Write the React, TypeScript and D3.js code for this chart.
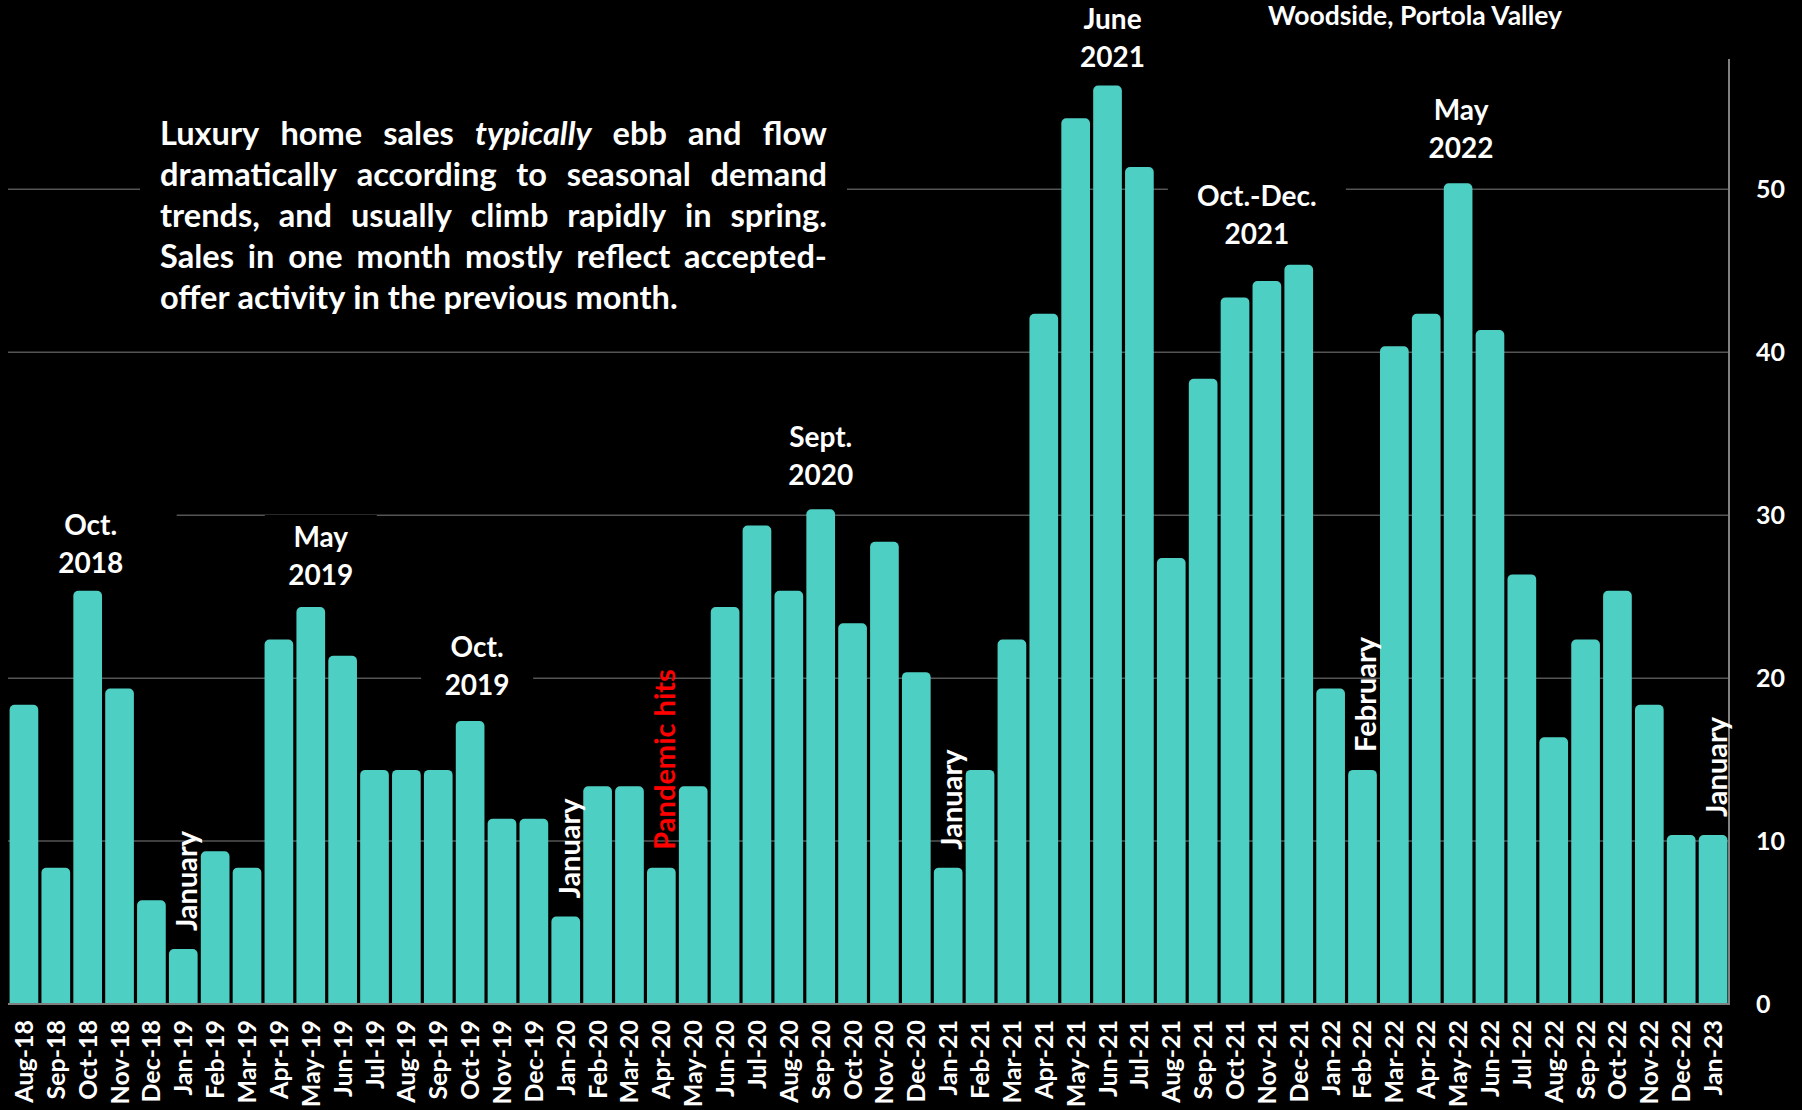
import React, { useMemo } from "react";
import * as d3 from "d3";

const months = [
  "Aug-18", "Sep-18", "Oct-18", "Nov-18", "Dec-18",
  "Jan-19", "Feb-19", "Mar-19", "Apr-19", "May-19", "Jun-19", "Jul-19", "Aug-19", "Sep-19", "Oct-19", "Nov-19", "Dec-19",
  "Jan-20", "Feb-20", "Mar-20", "Apr-20", "May-20", "Jun-20", "Jul-20", "Aug-20", "Sep-20", "Oct-20", "Nov-20", "Dec-20",
  "Jan-21", "Feb-21", "Mar-21", "Apr-21", "May-21", "Jun-21", "Jul-21", "Aug-21", "Sep-21", "Oct-21", "Nov-21", "Dec-21",
  "Jan-22", "Feb-22", "Mar-22", "Apr-22", "May-22", "Jun-22", "Jul-22", "Aug-22", "Sep-22", "Oct-22", "Nov-22", "Dec-22",
  "Jan-23",
];

const sales = [
  18, 8, 25, 19, 6,
  3, 9, 8, 22, 24, 21, 14, 14, 14, 17, 11, 11,
  5, 13, 13, 8, 13, 24, 29, 25, 30, 23, 28, 20,
  8, 14, 22, 42, 54, 56, 51, 27, 38, 43, 44, 45,
  19, 14, 40, 42, 50, 41, 26, 16, 22, 25, 18, 10,
  10,
];

const yTicks = [0, 10, 20, 30, 40, 50];

const chartTitle = "Woodside, Portola Valley";

// Text blocks above peaks: month anchor, lines
const peakNotes = [
  { month: "Oct-18", lines: ["Oct.", "2018"], dx: 3, gap: 24, half: 86 },
  { month: "May-19", lines: ["May", "2019"], dx: 10, gap: 28, half: 56 },
  { month: "Oct-19", lines: ["Oct.", "2019"], dx: 7, gap: 32, half: 56 },
  { month: "Sep-20", lines: ["Sept.", "2020"], dx: 0, gap: 30, half: 58 },
  { month: "Jun-21", lines: ["June", "2021"], dx: 5, gap: 25, half: 50 },
  { month: "Nov-21", lines: ["Oct.-Dec.", "2021"], dx: -10, gap: 43, half: 89 },
  { month: "May-22", lines: ["May", "2022"], dx: 3, gap: 31, half: 50 },
];

// Vertical labels just above bars
const vertNotes = [
  { month: "Jan-19", text: "January", color: "#ffffff" },
  { month: "Jan-20", text: "January", color: "#ffffff" },
  { month: "Apr-20", text: "Pandemic hits", color: "#ff0000" },
  { month: "Jan-21", text: "January", color: "#ffffff" },
  { month: "Feb-22", text: "February", color: "#ffffff" },
  { month: "Jan-23", text: "January", color: "#ffffff" },
];

type Word = { t: string; i?: boolean };
const paragraph: Word[][] = [
  [{ t: "Luxury" }, { t: "home" }, { t: "sales" }, { t: "typically", i: true }, { t: "ebb" }, { t: "and" }, { t: "flow" }],
  [{ t: "dramatically" }, { t: "according" }, { t: "to" }, { t: "seasonal" }, { t: "demand" }],
  [{ t: "trends," }, { t: "and" }, { t: "usually" }, { t: "climb" }, { t: "rapidly" }, { t: "in" }, { t: "spring." }],
  [{ t: "Sales" }, { t: "in" }, { t: "one" }, { t: "month" }, { t: "mostly" }, { t: "reflect" }, { t: "accepted-" }],
  [{ t: "offer" }, { t: "activity" }, { t: "in" }, { t: "the" }, { t: "previous" }, { t: "month." }],
];

const W = 1802;
const H = 1110;
const FONT = "Lato, 'Open Sans', sans-serif";
const BAR = "#4ecfc3";
const GRID = "#555555";
const AXIS = "#808080";

export default function App() {
  const x = d3.scaleBand<string>().domain(months).range([8, 1729]).paddingInner(0.1).paddingOuter(0.05);
  const y = d3.scaleLinear().domain([0, 58]).range([1004, 59]);
  const bw = x.bandwidth();
  const r = 5;
  const capExtra = 6; // rounded outline extends above the value

  const para = useMemo(() => {
    const ctx = document.createElement("canvas").getContext("2d")!;
    const meas = (s: string, it: boolean, size: number) => {
      ctx.font = `${it ? "italic " : ""}bold ${size}px Lato`;
      return ctx.measureText(s).width;
    };
    const last = paragraph[paragraph.length - 1];
    const lastStr = last.map((w) => w.t).join(" ");
    const size = (32 * 518) / meas(lastStr, false, 32);
    const left = 160;
    const right = 827;
    const out: { t: string; i?: boolean; x: number; line: number }[] = [];
    paragraph.forEach((line, li) => {
      const widths = line.map((w) => meas(w.t, !!w.i, size));
      const total = widths.reduce((a, b) => a + b, 0);
      const isLast = li === paragraph.length - 1;
      const gap = isLast ? meas(" ", false, size) : (right - left - total) / (line.length - 1);
      let cx = left;
      line.forEach((w, k) => {
        out.push({ t: w.t, i: w.i, x: cx, line: li });
        cx += widths[k] + gap;
      });
    });
    return { size, words: out };
  }, []);

  const barPath = (m: string, v: number) => {
    const x0 = x(m)!;
    const x1 = x0 + bw;
    const yt = y(v) - capExtra;
    const yb = y(0);
    return `M${x0},${yb}V${yt + r}A${r},${r} 0 0 1 ${x0 + r},${yt}H${x1 - r}A${r},${r} 0 0 1 ${x1},${yt + r}V${yb}Z`;
  };

  const valueOf = (m: string) => sales[months.indexOf(m)];
  const lineGap = 38;

  return (
    <div style={{ position: "fixed", left: 0, top: 0, width: W, height: H }}>
      <svg width={W} height={H} style={{ display: "block" }} fontFamily={FONT}>
        <rect x={0} y={0} width={W} height={H} fill="#000" />
        {/* gridlines */}
        {yTicks.filter((t) => t > 0).map((t) => (
          <line key={t} x1={8} x2={1729} y1={y(t)} y2={y(t)} stroke={GRID} strokeWidth={1.5} />
        ))}
        {/* text boxes (black) */}
        <rect x={140} y={100} width={707} height={232} fill="#000" />
        {peakNotes.map((n) => {
          const cx = x(n.month)! + bw / 2 + n.dx;
          const b2 = y(valueOf(n.month)) - n.gap;
          const b1 = b2 - lineGap;
          return (
            <rect key={"bx" + n.month} x={cx - n.half} y={b1 - 32} width={n.half * 2} height={b2 - b1 + 46} fill="#000" />
          );
        })}
        {/* bars */}
        {months.map((m, i) => (
          <path key={m} d={barPath(m, sales[i])} fill={BAR} />
        ))}
        {/* axes */}
        <line x1={8} x2={1729} y1={y(0)} y2={y(0)} stroke={AXIS} strokeWidth={2} />
        <line x1={1729} x2={1729} y1={y(58)} y2={y(0) + 1} stroke={AXIS} strokeWidth={2} />
        {yTicks.map((t) => (
          <text key={"yt" + t} x={1756} y={y(t) + 9} fill="#fff" fontSize={25} fontWeight="bold">
            {t}
          </text>
        ))}
        {/* x tick labels */}
        {months.map((m) => {
          const cx = x(m)! + bw / 2 + 9;
          return (
            <text
              key={"xl" + m}
              transform={`translate(${cx},1020) rotate(-90)`}
              textAnchor="end"
              fill="#fff"
              fontSize={25}
              fontWeight="bold"
            >
              {m}
            </text>
          );
        })}
        {/* title */}
        <text x={1415} y={25} textAnchor="middle" fill="#fff" fontSize={26.5} fontWeight="bold">
          {chartTitle}
        </text>
        {/* paragraph */}
        {para.words.map((w, k) => (
          <text
            key={"pw" + k}
            x={w.x}
            y={145 + w.line * 41}
            fill="#fff"
            fontSize={para.size}
            fontWeight="bold"
            fontStyle={w.i ? "italic" : "normal"}
          >
            {w.t}
          </text>
        ))}
        {/* peak notes */}
        {peakNotes.map((n) => {
          const cx = x(n.month)! + bw / 2 + n.dx;
          const b2 = y(valueOf(n.month)) - n.gap;
          const b1 = b2 - lineGap;
          return (
            <g key={"pn" + n.month}>
              <text x={cx} y={b1} textAnchor="middle" fill="#fff" fontSize={28} fontWeight="bold">
                {n.lines[0]}
              </text>
              <text x={cx} y={b2} textAnchor="middle" fill="#fff" fontSize={28} fontWeight="bold">
                {n.lines[1]}
              </text>
            </g>
          );
        })}
        {/* vertical notes */}
        {vertNotes.map((n) => {
          const cx = x(n.month)! + bw / 2 + 14;
          const yb = y(valueOf(n.month)) - 24;
          return (
            <text
              key={"vn" + n.month}
              transform={`translate(${cx},${yb}) rotate(-90)`}
              textAnchor="start"
              fill={n.color}
              fontSize={29}
              fontWeight="bold"
            >
              {n.text}
            </text>
          );
        })}
      </svg>
    </div>
  );
}
